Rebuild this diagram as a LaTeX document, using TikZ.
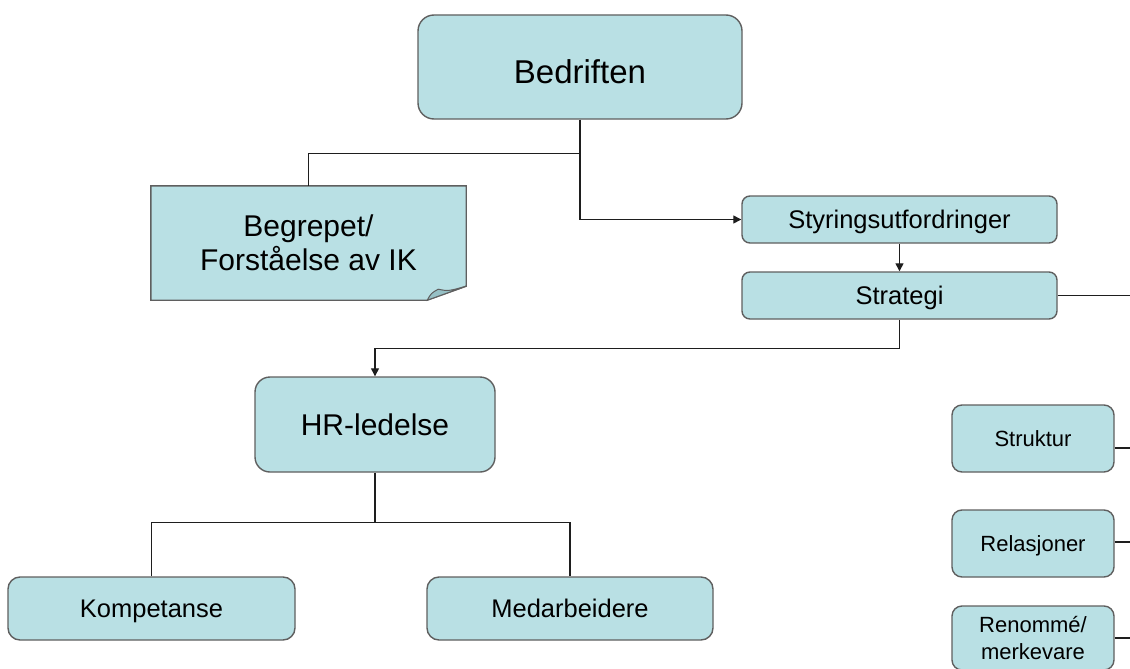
\documentclass[tikz,border=0pt]{standalone}
\usepackage{fontspec}
\setmainfont{Liberation Sans}
\usetikzlibrary{arrows.meta}
\definecolor{boxfill}{RGB}{185,224,228}
\definecolor{boxline}{RGB}{95,95,95}
\definecolor{foldfill}{RGB}{150,192,197}
\definecolor{linecol}{RGB}{30,30,30}
\begin{document}
\begin{tikzpicture}[x=1pt,y=-1pt,
  box/.style={draw=boxline, line width=1.4pt, fill=boxfill, rounded corners=#1,
              inner sep=0pt, align=center, text=black},
  box/.default=8pt,
  % single-line labels: capital height given so the capitals sit centred in the box
  big/.style={font=\fontsize{33pt}{38pt}\selectfont, text height=32.6pt, text depth=0pt},
  mid/.style={font=\fontsize{30pt}{34pt}\selectfont, text height=21.5pt, text depth=0pt},
  norm/.style={font=\fontsize{25.5pt}{30pt}\selectfont, text height=18.3pt, text depth=0pt},
  small/.style={font=\fontsize{22pt}{27pt}\selectfont, text height=15.8pt, text depth=0pt},
  twoline/.style={font=\fontsize{#1}{1.15*#1}\selectfont},
  conn/.style={draw=linecol, line width=1.3pt},
  arr/.style={conn, -{Triangle[length=8pt,width=8pt]}},
  notebox/.style={draw=boxline, line width=1.4pt, fill=boxfill},
  fold/.style={draw=boxline, line width=1pt, fill=foldfill}
]
\useasboundingbox (0,0) rectangle (1130,669);
\clip (0,0) rectangle (1130,669);

% top level
\node[box=16pt, big, minimum width=324pt, minimum height=104pt] (bed) at (580,67) {Bedriften};

% sticky note with a folded corner
\node[inner sep=0pt, minimum width=315pt, minimum height=114pt, align=center] (note) at (308.5,243) {};
\filldraw[notebox] (note.north west) -- (note.north east) -- ([yshift=14pt]note.south east)
  -- ([xshift=-39pt]note.south east) -- (note.south west) -- cycle;
\filldraw[fold] ([xshift=-39pt]note.south east)
  .. controls ([xshift=-35pt,yshift=7pt]note.south east) .. ([xshift=-28pt,yshift=11pt]note.south east)
  .. controls ([xshift=-18pt,yshift=9pt]note.south east) .. ([yshift=14pt]note.south east) -- cycle;
\node[font=\fontsize{30pt}{34pt}\selectfont, align=center, inner sep=0pt] (notetext) at (note.center)
  {Begrepet/\\Forståelse av IK};

% strategy chain
\node[box, norm, minimum width=315pt, minimum height=47pt] (sty) at (899.5,219.5) {Styringsutfordringer};
\node[box, norm, minimum width=315pt, minimum height=47pt] (strat) at (899.5,295.5) {Strategi};

% HR branch
\node[box=15pt, mid, minimum width=240pt, minimum height=95pt] (hr) at (375,424.5) {HR-ledelse};
\node[box=12pt, norm, minimum width=287pt, minimum height=63pt] (komp) at (151.5,608.5) {Kompetanse};
\node[box=12pt, norm, minimum width=286pt, minimum height=63pt] (med) at (570,608.5) {Medarbeidere};

% right column
\node[box=10pt, small, minimum width=162pt, minimum height=67pt] (struk) at (1033,438.5) {Struktur};
\node[box=10pt, small, minimum width=162pt, minimum height=67pt] (rel) at (1033,543.5) {Relasjoner};
\node[box=10pt, font=\fontsize{22pt}{27pt}\selectfont, minimum width=162pt, minimum height=64pt] (ren)
  at (1033,638) {Renommé/\\merkevare};

% connectors
\path (bed.south) ++(0,34) coordinate (j1);
\draw[conn] (bed.south) -- (j1) -| (note.north);
\draw[arr] (j1) |- (sty.west);
\draw[arr] (sty.south) -- (strat.north);
\draw[arr] (strat.south) -- ++(0,29) -| (hr.north);
\path (hr.south) ++(0,50) coordinate (j2);
\draw[conn] (hr.south) -- (j2);
\draw[conn] (komp.north) |- (j2) -| (med.north);

% lines leaving to the right
\coordinate (e1) at (1135,295.5);
\coordinate (e2) at (1135,448);
\coordinate (e3) at (1135,542);
\coordinate (e4) at (1135,638);
\draw[conn] (strat.east) -- (e1);
\draw[conn] (e2 -| struk.east) -- (e2);
\draw[conn] (e3 -| rel.east) -- (e3);
\draw[conn] (e4 -| ren.east) -- (e4);
\end{tikzpicture}
\end{document}
